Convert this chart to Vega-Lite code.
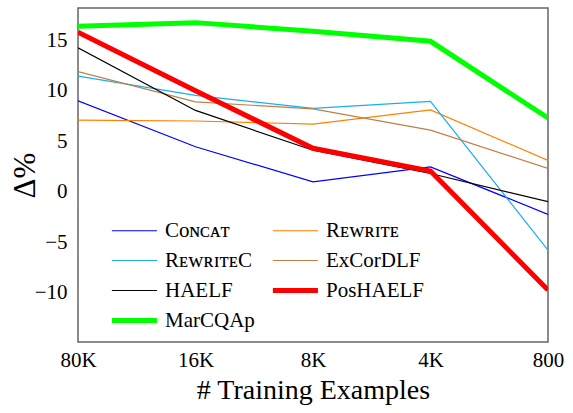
{
  "$schema": "https://vega.github.io/schema/vega-lite/v6.json",
  "autosize": "none",
  "padding": {"left": 78, "top": 8, "right": 25, "bottom": 71},
  "width": 470,
  "height": 334,
  "config": {
    "font": "Liberation Serif",
    "view": {"stroke": "#666666", "strokeWidth": 1.5},
    "axis": {"labelFont": "Liberation Serif", "titleFont": "Liberation Serif"},
    "legend": {"labelFont": "Liberation Serif"}
  },
  "data": {
    "values": [
      {"method": "Cᴏɴᴄᴀᴛ", "size": "80K", "delta": 9.0},
      {"method": "Cᴏɴᴄᴀᴛ", "size": "16K", "delta": 4.45},
      {"method": "Cᴏɴᴄᴀᴛ", "size": "8K", "delta": 0.97},
      {"method": "Cᴏɴᴄᴀᴛ", "size": "4K", "delta": 2.45},
      {"method": "Cᴏɴᴄᴀᴛ", "size": "800", "delta": -2.25},
      {"method": "Rᴇᴡʀɪᴛᴇ", "size": "80K", "delta": 7.08},
      {"method": "Rᴇᴡʀɪᴛᴇ", "size": "16K", "delta": 7.0},
      {"method": "Rᴇᴡʀɪᴛᴇ", "size": "8K", "delta": 6.7},
      {"method": "Rᴇᴡʀɪᴛᴇ", "size": "4K", "delta": 8.1},
      {"method": "Rᴇᴡʀɪᴛᴇ", "size": "800", "delta": 3.1},
      {"method": "RᴇᴡʀɪᴛᴇC", "size": "80K", "delta": 11.45},
      {"method": "RᴇᴡʀɪᴛᴇC", "size": "16K", "delta": 9.55},
      {"method": "RᴇᴡʀɪᴛᴇC", "size": "8K", "delta": 8.25},
      {"method": "RᴇᴡʀɪᴛᴇC", "size": "4K", "delta": 8.95},
      {"method": "RᴇᴡʀɪᴛᴇC", "size": "800", "delta": -5.8},
      {"method": "ExCorDLF", "size": "80K", "delta": 11.9},
      {"method": "ExCorDLF", "size": "16K", "delta": 8.9},
      {"method": "ExCorDLF", "size": "8K", "delta": 8.2},
      {"method": "ExCorDLF", "size": "4K", "delta": 6.1},
      {"method": "ExCorDLF", "size": "800", "delta": 2.3},
      {"method": "HAELF", "size": "80K", "delta": 14.25},
      {"method": "HAELF", "size": "16K", "delta": 8.05},
      {"method": "HAELF", "size": "8K", "delta": 4.1},
      {"method": "HAELF", "size": "4K", "delta": 1.8},
      {"method": "HAELF", "size": "800", "delta": -1.0},
      {"method": "PosHAELF", "size": "80K", "delta": 15.8},
      {"method": "PosHAELF", "size": "16K", "delta": 10.0},
      {"method": "PosHAELF", "size": "8K", "delta": 4.3},
      {"method": "PosHAELF", "size": "4K", "delta": 2.05},
      {"method": "PosHAELF", "size": "800", "delta": -9.75},
      {"method": "MarCQAp", "size": "80K", "delta": 16.4},
      {"method": "MarCQAp", "size": "16K", "delta": 16.75},
      {"method": "MarCQAp", "size": "8K", "delta": 15.9},
      {"method": "MarCQAp", "size": "4K", "delta": 14.9},
      {"method": "MarCQAp", "size": "800", "delta": 7.3}
    ]
  },
  "mark": {"type": "line", "clip": true, "strokeJoin": "miter"},
  "encoding": {
    "x": {
      "field": "size",
      "type": "ordinal",
      "sort": ["80K", "16K", "8K", "4K", "800"],
      "scale": {"type": "point", "padding": 0},
      "axis": {
        "title": "# Training Examples",
        "labelAngle": 0,
        "labelFont": "Liberation Serif",
        "labelFontSize": 21,
        "labelColor": "#000",
        "labelPadding": 7,
        "ticks": false,
        "domain": false,
        "titleFont": "Liberation Serif",
        "titleFontSize": 28,
        "titleFontWeight": "normal",
        "titleColor": "#000",
        "titlePadding": 6
      }
    },
    "y": {
      "field": "delta",
      "type": "quantitative",
      "scale": {"domain": [-14.9, 18.2], "nice": false, "zero": false},
      "axis": {
        "title": "Δ%",
        "values": [-10, -5, 0, 5, 10, 15],
        "grid": false,
        "ticks": false,
        "domain": false,
        "labelFont": "Liberation Serif",
        "labelFontSize": 21,
        "labelColor": "#000",
        "labelPadding": 11,
        "titleFont": "Liberation Serif",
        "titleFontSize": 31,
        "titleFontWeight": "normal",
        "titleColor": "#000",
        "titleX": -53,
        "titleY": 167,
        "titleAngle": -90,
        "titleAlign": "center",
        "titleBaseline": "middle"
      }
    },
    "color": {
      "field": "method",
      "type": "nominal",
      "scale": {
        "domain": ["Cᴏɴᴄᴀᴛ", "RᴇᴡʀɪᴛᴇC", "HAELF", "MarCQAp", "Rᴇᴡʀɪᴛᴇ", "ExCorDLF", "PosHAELF"],
        "range": ["#0000ff", "#1aaef0", "#000000", "#00ff00", "#ff8000", "#c07f45", "#ff0000"]
      },
      "legend": {
        "title": null,
        "orient": "none",
        "legendX": 29,
        "legendY": 212,
        "columns": 2,
        "columnPadding": 7,
        "rowPadding": 8,
        "padding": 0,
        "symbolType": "M-1,0H7",
        "symbolSize": 127,
        "labelOffset": 37,
        "labelFontSize": 21,
        "labelFont": "Liberation Serif",
        "labelColor": "#000",
        "labelLimit": 300,
        "encode": {
          "symbols": {
            "update": {
              "strokeWidth": {"signal": "datum.value === 'PosHAELF' || datum.value === 'MarCQAp' ? 5 : 1.2"}
            }
          }
        }
      }
    },
    "strokeWidth": {
      "condition": {"test": "datum.method === 'PosHAELF' || datum.method === 'MarCQAp'", "value": 5},
      "value": 1.2
    }
  }
}
